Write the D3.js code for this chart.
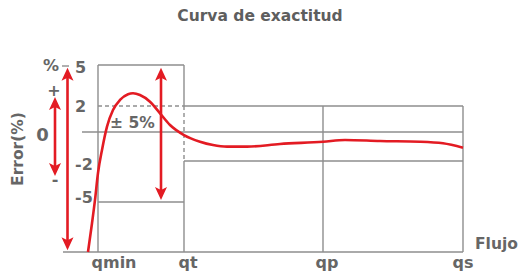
<!DOCTYPE html>
<html><head><meta charset="utf-8">
<script src="https://cdn.jsdelivr.net/npm/d3@7"></script>
<style>
html,body{margin:0;padding:0;background:#fff;}
svg text{font-family:"DejaVu Sans",sans-serif;font-weight:bold;fill:#666;}
</style></head>
<body><svg id="c" width="519" height="276"></svg>
<script>
// ---- data ----
const title = "Curva de exactitud";
const yTickValues = [5, 2, -2, -5];
const yTickLabels = ["5", "2", "-2", "-5"];
const flowLabels = ["qmin", "qt", "qp", "qs"];
const flowValues = [47, 121, 260, 400];
const curveFlow = [25, 29, 32, 35, 39, 44, 50, 57, 65, 70, 77, 87, 97, 107, 121, 137, 150, 164, 184, 217, 260, 282, 317, 357, 380, 400];
const curveError = [-9.0, -6.7, -4.85, -2.88, -1.24, 0.41, 1.69, 2.44, 2.86, 2.93, 2.80, 2.31, 1.44, 0.54, -0.21, -0.67, -0.90, -1.01, -1.01, -0.83, -0.67, -0.55, -0.62, -0.67, -0.78, -1.08];

// ---- scales ----
const x = d3.scaleLinear().domain([0, 400]).range([63, 463]);
const y = d3.scaleLinear().domain([-9, -5, -2, 0, 2, 5]).range([252, 202, 161, 132, 106, 65]);

const svg = d3.select("#c");
const gray = "#8e8e8e", red = "#e31b23";

// title
svg.append("text").attr("x", 260).attr("y", 21).attr("text-anchor", "middle")
  .style("font-size", "15.5px").style("fill", "#5e5e5e").text(title);

const g = svg.append("g");
function hline(v, x0, x1, dash) {
  g.append("line").attr("x1", x(x0)).attr("x2", x(x1)).attr("y1", y(v)).attr("y2", y(v))
   .attr("stroke", gray).attr("stroke-width", 1.4).attr("stroke-dasharray", dash || null);
}
function vline(f, v0, v1, dash) {
  g.append("line").attr("x1", x(f)).attr("x2", x(f)).attr("y1", y(v0)).attr("y2", y(v1))
   .attr("stroke", gray).attr("stroke-width", 1.4).attr("stroke-dasharray", dash || null);
}
const boxLeft = 35, qt = flowValues[1], qp = flowValues[2], qs = flowValues[3];
hline(-9, 0, qs);
hline(0, 19, qs);
hline(5, boxLeft, qt);
hline(-5, boxLeft, qt);
g.append("line").attr("x1", 62).attr("x2", 69).attr("y1", 66).attr("y2", 66)
  .attr("stroke", gray).attr("stroke-width", 1.4);
vline(boxLeft, 5, -9);
hline(2, boxLeft, qt, "4,3");
hline(2, qt, qs);
hline(-2, qt, qs);
vline(qt, 5, 2);
vline(qt, 2, -2, "4,3");
vline(qt, -2, -9);
vline(qp, 2, -9);
vline(qs, 2, -9);

// y tick labels (baseline offsets from the gridline)
const tickDy = [8, 6, 9, 1];
svg.selectAll(".yt").data(yTickValues).enter().append("text")
  .attr("x", 75).attr("y", (d, i) => y(d) + tickDy[i]).style("font-size", "16px")
  .text((d, i) => yTickLabels[i]);

// flow labels
svg.selectAll(".xt").data(flowValues).enter().append("text")
  .attr("x", (d, i) => x(d) + (i === 3 ? 0 : 4)).attr("y", 268).attr("text-anchor", "middle")
  .style("font-size", "16px").text((d, i) => flowLabels[i]);
svg.append("text").attr("x", 475).attr("y", 249).style("font-size", "15.5px").text("Flujo");

// left labels
svg.append("text").attr("x", 43).attr("y", 71).style("font-size", "16px").text("%");
svg.append("text").attr("x", 54).attr("y", 96).attr("text-anchor", "middle").style("font-size", "16px").text("+");
svg.append("text").attr("x", 42.5).attr("y", 141).attr("text-anchor", "middle").style("font-size", "18px").text("0");
svg.append("text").attr("x", 55).attr("y", 185).attr("text-anchor", "middle").style("font-size", "16px").text("-");
svg.append("text").attr("transform", "translate(22.5,149) rotate(-90)").attr("text-anchor", "middle")
  .style("font-size", "15.5px").text("Error(%)");
svg.append("text").attr("x", 110).attr("y", 128).style("font-size", "15.5px").text("± 5%");

// curve
const pts = curveFlow.map((f, i) => [f, curveError[i]]);
svg.append("path").datum(pts)
  .attr("d", d3.line().x(d => x(d[0])).y(d => y(d[1])).curve(d3.curveMonotoneX))
  .attr("fill", "none").attr("stroke", red).attr("stroke-width", 2.6);

// arrows (annotation, in data space)
const arrows = [
  {f: 4.5, from: 4.8, to: -8.85},
  {f: -8, from: 2.65, to: -3.1},
  {f: 98, from: 4.8, to: -4.85}
];
const ag = svg.append("g");
arrows.forEach(a => {
  const xa = x(a.f), y0 = y(a.from), y1 = y(a.to);
  ag.append("line").attr("x1", xa).attr("x2", xa).attr("y1", y0 + 8).attr("y2", y1 - 8)
    .attr("stroke", red).attr("stroke-width", 2.6);
  ag.append("path").attr("d", `M${xa},${y0} L${xa + 6},${y0 + 13} L${xa},${y0 + 10} L${xa - 6},${y0 + 13} Z`).attr("fill", red);
  ag.append("path").attr("d", `M${xa},${y1} L${xa + 6},${y1 - 13} L${xa},${y1 - 10} L${xa - 6},${y1 - 13} Z`).attr("fill", red);
});
</script></body></html>
